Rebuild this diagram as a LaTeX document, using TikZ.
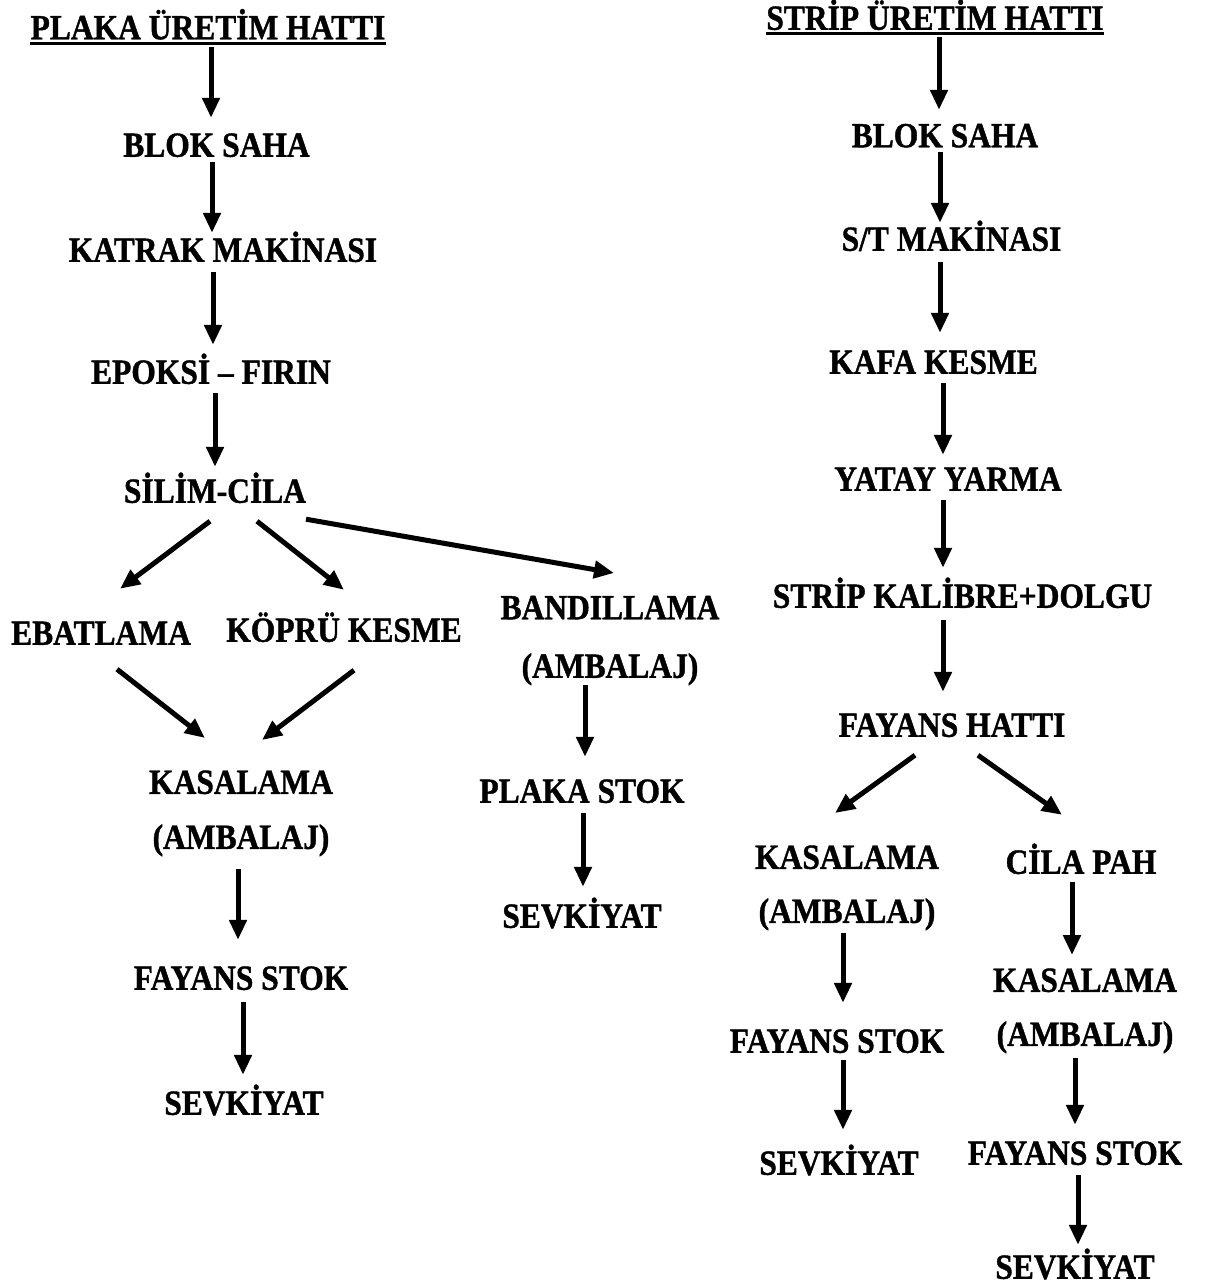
\documentclass[tikz,border=0pt]{standalone}
\usepackage{fontspec}
\setmainfont{Liberation Serif}[BoldFeatures={FakeBold=1.2}]
\usetikzlibrary{arrows.meta,calc}
\newcommand\tall[1]{\scalebox{1}[1.12]{#1}}
\begin{document}
\begin{tikzpicture}[x=1pt,y=-1pt,
  lbl/.style={font=\fontsize{31.5}{54}\selectfont\bfseries, inner sep=0pt, text height=23.5pt, text depth=0pt},
  lbltwo/.style={font=\fontsize{31.5}{54}\selectfont\bfseries, inner sep=0pt, align=center, anchor=north},
  arr/.style={line width=5pt, -{Triangle[length=20pt,width=17pt]}},
  ul/.style={line width=3pt}]
\useasboundingbox (0,0) rectangle (1205,1286);

% ---------- plate production line ----------
\node[lbl] (t1) at (208,27.5) {\tall{PLAKA ÜRETİM HATTI}};
\draw[ul] ($(t1.south west)+(0,3.75)$) -- ($(t1.south east)+(0,3.75)$);
\node[lbl] (blok1)  at (216.5,145) {\tall{BLOK SAHA}};
\node[lbl] (katrak) at (223,250) {\tall{KATRAK MAKİNASI}};
\node[lbl] (epoksi) at (211,372) {\tall{EPOKSİ – FIRIN}};
\node[lbl] (silim)  at (215,491) {\tall{SİLİM-CİLA}};
\node[lbl] (ebat)   at (101,633) {\tall{EBATLAMA}};
\node[lbl] (kopru)  at (344,630) {\tall{KÖPRÜ KESME}};
\node[lbltwo] (band) at (610,595.75) {\tall{BANDILLAMA}\\[4.5pt]\tall{(AMBALAJ)}};
\node[lbltwo] (kas1) at (241,770.25) {\tall{KASALAMA}\\[1pt]\tall{(AMBALAJ)}};
\node[lbl] (fstok1) at (241,978) {\tall{FAYANS STOK}};
\node[lbl] (sevk2)  at (244,1103) {\tall{SEVKİYAT}};
\node[lbl] (pstok)  at (582,791) {\tall{PLAKA STOK}};
\node[lbl] (sevk1)  at (582,916) {\tall{SEVKİYAT}};

% ---------- strip production line ----------
\node[lbl] (t2) at (935,18) {\tall{STRİP ÜRETİM HATTI}};
\draw[ul] ($(t2.south west)+(0,3.25)$) -- ($(t2.south east)+(0,3.25)$);
\node[lbl] (blok2)  at (945,135.5) {\tall{BLOK SAHA}};
\node[lbl] (st)     at (951.5,239) {\tall{S/T MAKİNASI}};
\node[lbl] (kafa)   at (933.5,362) {\tall{KAFA KESME}};
\node[lbl] (yatay)  at (948,479) {\tall{YATAY YARMA}};
\node[lbl] (strip)  at (962.5,596) {\tall{STRİP KALİBRE+DOLGU}};
\node[lbl] (fhat)   at (952,725) {\tall{FAYANS HATTI}};
\node[lbltwo] (kas2) at (847,845.25) {\tall{KASALAMA}\\\tall{(AMBALAJ)}};
\node[lbl] (cila)   at (1081,862) {\tall{CİLA PAH}};
\node[lbl] (fstok2) at (837,1041) {\tall{FAYANS STOK}};
\node[lbl] (sevk3)  at (839,1163) {\tall{SEVKİYAT}};
\node[lbltwo] (kas3) at (1085,968.25) {\tall{KASALAMA}\\\tall{(AMBALAJ)}};
\node[lbl] (fstok3) at (1075,1153) {\tall{FAYANS STOK}};
\node[lbl] (sevk4)  at (1075,1267) {\tall{SEVKİYAT}};

% vertical link: #1 from, #2 to, #3 x offset, #4 gap below source, #5 gap above target
\newcommand\vlink[5]{\draw[arr] ($(#1.south)+(#3,#4)$) -- ($(#1.south |- #2.north)+(#3,-#5)$);}

% plate line links
\vlink{t1}{blok1}{3}{7.75}{15.25}
\vlink{blok1}{katrak}{-4.5}{5.25}{5.25}
\vlink{katrak}{epoksi}{-10}{10.25}{15.25}
\vlink{epoksi}{silim}{4}{9.25}{12.25}
\draw[arr] ($(silim.south)+(-5,18.25)$) -- ($(ebat.north)+(19,-32.25)$);
\draw[arr] ($(silim.south)+(42,18.25)$) -- ($(kopru.north)+(0,-28.25)$);
\draw[arr] ($(silim.south)+(91,16.25)$) -- ($(band.north)+(4,-22.75)$);
\draw[arr] ($(ebat.south)+(16,24.25)$) -- ($(kas1.north)+(-36,-32.25)$);
\draw[arr] ($(kopru.south)+(10,28.25)$) -- ($(kas1.north)+(21,-30.25)$);
\vlink{band}{pstok}{-25}{0}{22.25}
\vlink{pstok}{sevk1}{1}{10.25}{17.25}
\vlink{kas1}{fstok1}{-3}{12.25}{26.25}
\vlink{fstok1}{sevk2}{2}{12.25}{16.25}

% strip line links
\vlink{t2}{blok2}{4}{7.25}{13.75}
\vlink{blok2}{st}{-5}{4.75}{4.25}
\vlink{st}{kafa}{-11.5}{11.25}{17.25}
\vlink{kafa}{yatay}{9.5}{9.25}{12.25}
\vlink{yatay}{strip}{-5}{9.25}{16.25}
\vlink{strip}{fhat}{-19.5}{12.25}{21.25}
\draw[arr] ($(fhat.south)+(-37,18.25)$) -- ($(kas2.north)+(-12,-32.25)$);
\draw[arr] ($(fhat.south)+(26,18.25)$) -- ($(cila.north)+(-19,-35.25)$);
\vlink{kas2}{fstok2}{-4}{2.25}{26.25}
\vlink{fstok2}{sevk3}{6}{7.25}{21.25}
\vlink{cila}{kas3}{-9}{8.25}{13.25}
\vlink{kas3}{fstok3}{-10}{4.25}{16.25}
\vlink{fstok3}{sevk4}{3}{10.25}{10.25}
\end{tikzpicture}
\end{document}
